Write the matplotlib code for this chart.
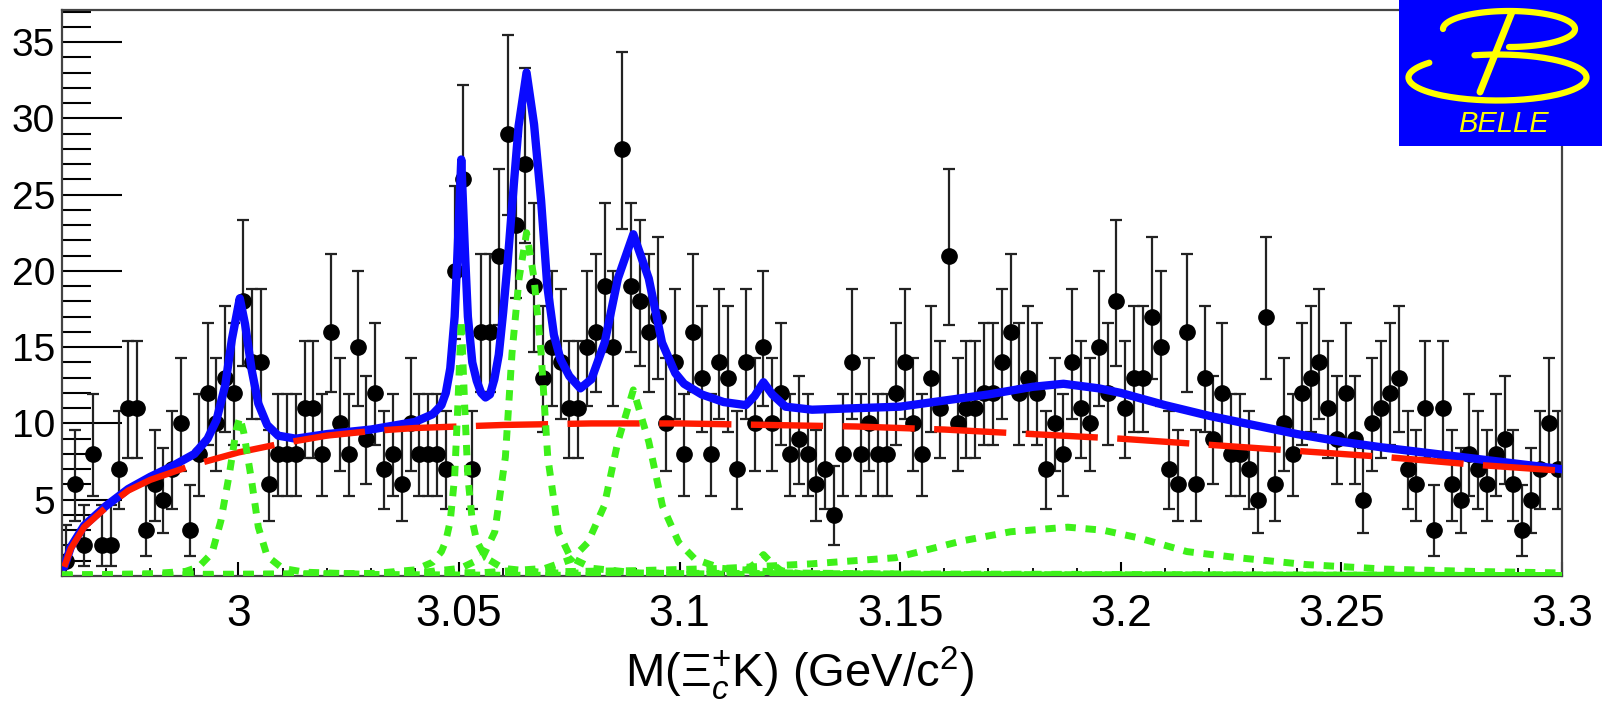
import numpy as np
import matplotlib
matplotlib.use("Agg")
import matplotlib.pyplot as plt
from matplotlib.ticker import MultipleLocator, FixedLocator, FixedFormatter

plt.rcParams['font.family'] = ['Liberation Sans', 'DejaVu Sans']
plt.rcParams['mathtext.fontset'] = 'custom'
plt.rcParams['mathtext.rm'] = 'Liberation Sans'
plt.rcParams['mathtext.it'] = 'Liberation Sans:italic'
plt.rcParams['lines.scale_dashes'] = False

# histogram: 2 MeV bins from 2.96 to 3.30
x_lo = 2.96
bin_w = 0.002
counts = [1, 6, 2, 8, 2, 2, 7, 11, 11, 3, 6, 5, 7, 10, 3, 8, 12, 10, 13, 12, 18, 14, 14,
          6, 8, 8, 8, 11, 11, 8, 16, 10, 8, 15, 9, 12, 7, 8, 6, 10, 8, 8, 8, 7, 20, 26, 7, 16,
          16, 21, 29, 23, 27, 19, 13, 15, 14, 11, 11, 15, 16, 19, 15, 28, 19, 18, 16, 17, 10, 14, 8,
          16, 13, 8, 14, 13, 7, 14, 10, 15, 10, 12, 8, 9, 8, 6, 7, 4, 8, 14, 8, 10, 8, 8, 12, 14,
          10, 8, 13, 11, 21, 10, 11, 11, 12, 12, 14, 16, 12, 13, 12, 7, 10, 8, 14, 11, 10, 15, 12, 18,
          11, 13, 13, 17, 15, 7, 6, 16, 6, 13, 9, 12, 8, 8, 7, 5, 17, 6, 10, 8, 12, 13,
          14, 11, 9, 12, 9, 5, 10, 11, 12, 13, 7, 6, 11, 3, 11, 6, 5, 8, 7, 6, 8, 9, 6, 3, 5, 7, 10, 7]

# total fit (blue)
fit_x = [2.9605, 2.962, 2.965, 2.970, 2.975, 2.980, 2.985, 2.990, 2.993, 2.995, 2.997, 2.9985,
         3.0003, 3.0015, 3.003, 3.0045, 3.0065, 3.009, 3.013, 3.020, 3.030, 3.040, 3.044, 3.046,
         3.047, 3.048, 3.049, 3.0497, 3.0505, 3.0513, 3.052, 3.053, 3.054, 3.055, 3.056, 3.057,
         3.058, 3.059, 3.060, 3.061, 3.062, 3.0635, 3.0653, 3.067, 3.0686, 3.070, 3.0715, 3.073,
         3.075, 3.0775, 3.080, 3.083, 3.086, 3.0895, 3.093, 3.096, 3.099, 3.101, 3.105, 3.110,
         3.115, 3.117, 3.119, 3.121, 3.124, 3.130, 3.140, 3.150, 3.160, 3.170, 3.180, 3.187,
         3.195, 3.200, 3.210, 3.220, 3.230, 3.240, 3.250, 3.260, 3.280, 3.300]
fit_y = [0.6, 1.9, 3.3, 4.6, 5.7, 6.5, 7.2, 8.0, 9.0, 10.2, 12.5, 15.5,
         18.2, 16.5, 13.5, 11.3, 9.9, 9.2, 9.0, 9.3, 9.6, 10.1, 10.6, 11.2,
         12.0, 13.6, 17.0, 21.5, 27.3, 21.5, 17.0, 14.0, 12.8, 12.0, 11.7, 11.9,
         12.9, 14.5, 17.3, 20.5, 24.2, 29.5, 33.0, 29.6, 24.6, 19.0, 15.8, 14.2,
         13.1, 12.3, 12.9, 15.3, 19.5, 22.4, 19.5, 15.3, 13.3, 12.6, 11.9, 11.4,
         11.2, 11.8, 12.7, 11.9, 11.1, 10.9, 11.0, 11.1, 11.5, 11.9, 12.4, 12.6,
         12.3, 12.0, 11.2, 10.5, 9.9, 9.3, 8.8, 8.4, 7.7, 7.0]

# background (red dashed)
bkg_x = [2.9605, 2.962, 2.965, 2.970, 2.975, 2.980, 2.985, 2.990, 3.000, 3.010, 3.020, 3.030,
         3.040, 3.050, 3.060, 3.080, 3.100, 3.120, 3.140, 3.160, 3.180, 3.200, 3.220, 3.240,
         3.260, 3.280, 3.300]
bkg_y = [0.6, 1.8, 3.2, 4.5, 5.6, 6.3, 6.8, 7.3, 8.1, 8.7, 9.2, 9.5,
         9.7, 9.8, 9.9, 10.0, 10.0, 9.9, 9.8, 9.6, 9.3, 9.0, 8.6, 8.2,
         7.8, 7.3, 6.9]

# signal components (green dotted)
sig1_x = [2.960, 2.980, 2.988, 2.991, 2.994, 2.996, 2.998, 2.9995, 3.0003, 3.0012, 3.003,
          3.0045, 3.0065, 3.010, 3.015, 3.030, 3.060, 3.300]
sig1_y = [0.05, 0.15, 0.3, 0.6, 1.5, 3.6, 6.8, 9.6, 10.4, 9.4, 6.2, 3.2, 1.3, 0.5, 0.25,
          0.1, 0.05, 0.02]
sig2_x = [2.960, 3.030, 3.040, 3.044, 3.046, 3.047, 3.048, 3.049, 3.0497, 3.0505, 3.0513,
          3.052, 3.053, 3.054, 3.056, 3.060, 3.070, 3.300]
sig2_y = [0.02, 0.15, 0.4, 0.9, 1.6, 2.3, 3.6, 6.5, 11.0, 16.8, 11.0, 6.5, 3.6, 2.3, 1.2,
          0.5, 0.2, 0.02]
sig3_x = [2.960, 3.030, 3.0403, 3.0503, 3.0553, 3.0581, 3.0605, 3.062, 3.0636, 3.0653, 3.067,
          3.0686, 3.0701, 3.0725, 3.0753, 3.0803, 3.0903, 3.120, 3.300]
sig3_y = [0.02, 0.1, 0.2, 0.5, 1.2, 2.9, 7.8, 14.6, 19.5, 22.5, 19.5, 14.6, 7.8, 2.9, 1.2,
          0.5, 0.2, 0.08, 0.02]
sig4_x = [2.960, 3.030, 3.0545, 3.0695, 3.0755, 3.0792, 3.0829, 3.086, 3.0895, 3.093, 3.0961,
          3.0998, 3.1035, 3.1095, 3.1245, 3.160, 3.300]
sig4_y = [0.03, 0.1, 0.2, 0.5, 1.1, 2.2, 4.6, 8.8, 12.2, 8.8, 4.6, 2.2, 1.1, 0.5, 0.2, 0.1, 0.03]
sig5_x = [2.960, 3.090, 3.110, 3.115, 3.117, 3.119, 3.121, 3.123, 3.128, 3.150, 3.300]
sig5_y = [0.01, 0.03, 0.12, 0.35, 0.8, 1.4, 0.8, 0.35, 0.12, 0.03, 0.01]
sig6_x = [2.960, 3.000, 3.050, 3.090, 3.110, 3.130, 3.149, 3.164, 3.175, 3.188, 3.196, 3.204,
          3.215, 3.2265, 3.242, 3.260, 3.280, 3.300]
sig6_y = [0.08, 0.12, 0.2, 0.35, 0.5, 0.8, 1.2, 2.3, 2.9, 3.2, 3.0, 2.5, 1.6, 1.2, 0.75, 0.45,
          0.3, 0.2]

xtick_vals = [3.0, 3.05, 3.1, 3.15, 3.2, 3.25, 3.3]
xtick_labels = ["3", "3.05", "3.1", "3.15", "3.2", "3.25", "3.3"]
ytick_vals = [5, 10, 15, 20, 25, 30, 35]

W, H = 1603, 702
fig = plt.figure(figsize=(W / 100, H / 100), dpi=100)
ax = fig.add_axes([62 / W, 1 - 576 / H, 1500 / W, 566 / H])

n = np.array(counts, dtype=float)
xc = x_lo + bin_w * (np.arange(len(counts)) + 0.5)
# Poisson (Garwood-like) asymmetric errors as drawn by ROOT
err_lo = np.sqrt(np.maximum(n - 0.25, 0))
err_hi = np.sqrt(n + 0.75) + 1

ax.errorbar(xc, n, yerr=[err_lo, err_hi], fmt='o', color='black', ecolor='#222222',
            elinewidth=1.6, capsize=4, capthick=1.6, markersize=11, zorder=2)

ax.plot(fit_x, fit_y, color='#0a0aff', lw=6, zorder=3, solid_capstyle='round')
ax.plot(bkg_x, bkg_y, color='#ff1a00', lw=4.6, ls=(0, (52, 14)), zorder=4)
for sx, sy in [(sig1_x, sig1_y), (sig2_x, sig2_y), (sig3_x, sig3_y),
               (sig4_x, sig4_y), (sig5_x, sig5_y), (sig6_x, sig6_y)]:
    ax.plot(sx, sy, color='#3ef01a', lw=5, ls=(0, (7.5, 7)), zorder=5)

ax.set_xlim(2.96, 3.30)
ax.set_ylim(0, 37.1)

ax.xaxis.set_major_locator(FixedLocator(xtick_vals))
ax.xaxis.set_major_formatter(FixedFormatter(xtick_labels))
ax.xaxis.set_minor_locator(MultipleLocator(0.01))
ax.yaxis.set_major_locator(FixedLocator(ytick_vals))
ax.yaxis.set_minor_locator(MultipleLocator(1))

ax.tick_params(axis='x', which='major', direction='in', length=10, width=1.5,
               labelsize=32, pad=13, top=False)
ax.tick_params(axis='x', which='minor', direction='in', length=6, width=1.3, top=False)
ax.tick_params(axis='y', which='major', direction='in', length=43, width=1.5,
               labelsize=28, pad=5, right=False)
ax.tick_params(axis='y', which='minor', direction='in', length=21, width=1.5, right=False)
for s in ax.spines.values():
    s.set_linewidth(1.6)
    s.set_color('#444444')

fig.text(800 / W, 1 - 687 / H, r'M($\mathrm{\Xi}_{c}^{+}$K) (GeV/c$^{2}$)',
         ha='center', va='baseline', fontsize=34)

# Belle logo
lg = fig.add_axes([1399 / W, 1 - 146 / H, 203 / W, 146 / H])
lg.set_facecolor('#0000ff')
lg.set_xlim(0, 203)
lg.set_ylim(146, 0)
lg.set_xticks([])
lg.set_yticks([])
for s in lg.spines.values():
    s.set_visible(False)
yel = '#ffff00'
t = np.radians(np.linspace(180, -90, 120))
lg.plot(110 + 66 * np.cos(t), 29 - 18 * np.sin(t), color=yel, lw=4.5, solid_capstyle='round')
t = np.radians(np.linspace(140, 465, 160))
lg.plot(98.5 + 89 * np.cos(t), 77.5 - 23 * np.sin(t), color=yel, lw=4.5, solid_capstyle='round')
lg.plot([113, 81], [12, 92], color=yel, lw=5, solid_capstyle='round')
lg.text(104, 124, 'BELLE', color=yel, fontsize=21, style='italic', ha='center', va='center')

fig.savefig('out.png', dpi=100)
